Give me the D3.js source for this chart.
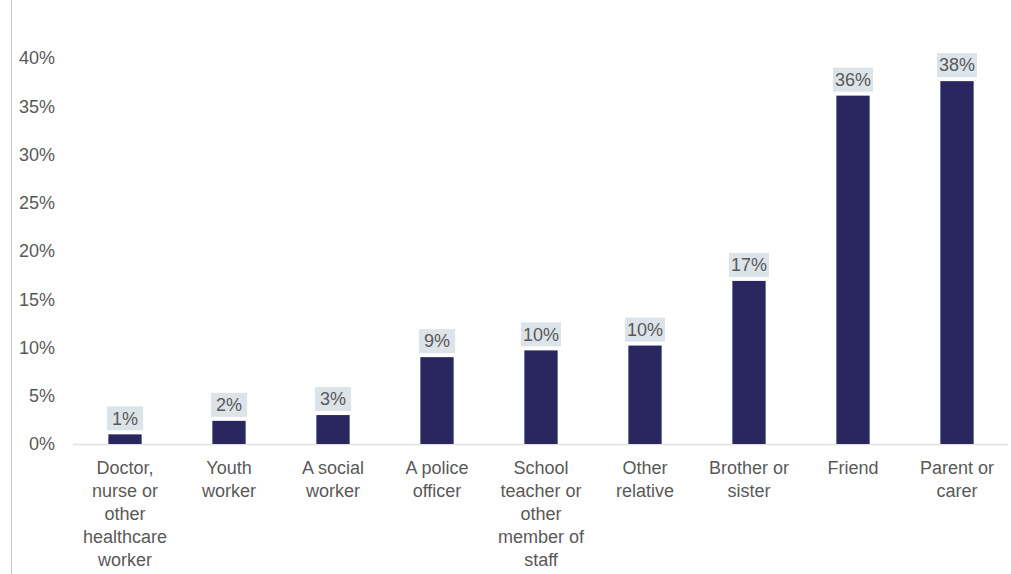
<!DOCTYPE html>
<html>
<head>
<meta charset="utf-8">
<script src="https://cdn.jsdelivr.net/npm/d3@7"></script>
<style>
  html, body { margin: 0; padding: 0; background: #fff; }
  svg { display: block; font-family: "Liberation Sans", Arial, sans-serif; }
</style>
</head>
<body>
<svg id="chart" width="1011" height="574"></svg>
<script>
// Who young people told: share of respondents by person
const categories = [
  "Doctor, nurse or other healthcare worker",
  "Youth worker",
  "A social worker",
  "A police officer",
  "School teacher or other member of staff",
  "Other relative",
  "Brother or sister",
  "Friend",
  "Parent or carer"
];
const categoryLines = [
  ["Doctor,", "nurse or", "other", "healthcare", "worker"],
  ["Youth", "worker"],
  ["A social", "worker"],
  ["A police", "officer"],
  ["School", "teacher or", "other", "member of", "staff"],
  ["Other", "relative"],
  ["Brother or", "sister"],
  ["Friend"],
  ["Parent or", "carer"]
];
const values = [1.0, 2.4, 3.0, 9.0, 9.7, 10.2, 16.9, 36.1, 37.6];
const yTicks = [0, 5, 10, 15, 20, 25, 30, 35, 40];

const svg = d3.select("#chart");
const textColor = "#595959";

const x = d3.scaleBand()
  .domain(categories)
  .range([73, 1009])
  .paddingInner(0.68)
  .paddingOuter(0.34);

const y = d3.scaleLinear().domain([0, 40]).range([444, 58]);

// Left frame line
svg.append("line")
  .attr("x1", 11.5).attr("x2", 11.5)
  .attr("y1", 0).attr("y2", 574)
  .attr("stroke", "#c8c8c8").attr("stroke-width", 1);

// Y axis labels
const yAxis = d3.axisLeft(y)
  .tickValues(yTicks)
  .tickSize(0)
  .tickPadding(0)
  .tickFormat(d => d + "%");
const yG = svg.append("g").attr("transform", "translate(55,0)").call(yAxis);
yG.select(".domain").remove();
yG.selectAll("text")
  .attr("fill", textColor)
  .attr("font-size", 18)
  .attr("font-family", "Liberation Sans, Arial, sans-serif");

// Baseline
svg.append("line")
  .attr("x1", 73).attr("x2", 1008)
  .attr("y1", y(0) + 0.5).attr("y2", y(0) + 0.5)
  .attr("stroke", "#e0e0e0").attr("stroke-width", 1.5);

// Bars
svg.append("g").selectAll("rect")
  .data(values)
  .join("rect")
  .attr("x", (d, i) => x(categories[i]))
  .attr("width", x.bandwidth())
  .attr("y", d => y(d))
  .attr("height", d => y(0) - y(d))
  .attr("fill", "#2a2760");

// Value labels with shaded boxes
const lbl = svg.append("g").selectAll("g")
  .data(values)
  .join("g")
  .attr("transform", (d, i) => `translate(${x(categories[i]) + x.bandwidth() / 2},${y(d) - 16})`);

lbl.append("text")
  .attr("text-anchor", "middle")
  .attr("dy", "0.35em")
  .attr("font-size", 18)
  .attr("fill", textColor)
  .text(d => Math.round(d) + "%");

lbl.each(function () {
  const g = d3.select(this);
  const bb = g.select("text").node().getBBox();
  const w = Math.max(bb.width + 4, x.bandwidth() + 3);
  g.insert("rect", "text")
    .attr("x", -w / 2)
    .attr("y", -12)
    .attr("width", w)
    .attr("height", 24)
    .attr("fill", "#dce3e9");
});

// Category labels
const cat = svg.append("g").selectAll("text")
  .data(categoryLines)
  .join("text")
  .attr("text-anchor", "middle")
  .attr("font-size", 18)
  .attr("fill", textColor)
  .attr("x", (d, i) => x(categories[i]) + x.bandwidth() / 2)
  .attr("y", 474);

cat.selectAll("tspan")
  .data(d => d)
  .join("tspan")
  .attr("x", function () { return this.parentNode.getAttribute("x"); })
  .attr("dy", (d, i) => i === 0 ? 0 : 23)
  .text(d => d);
</script>
</body>
</html>
